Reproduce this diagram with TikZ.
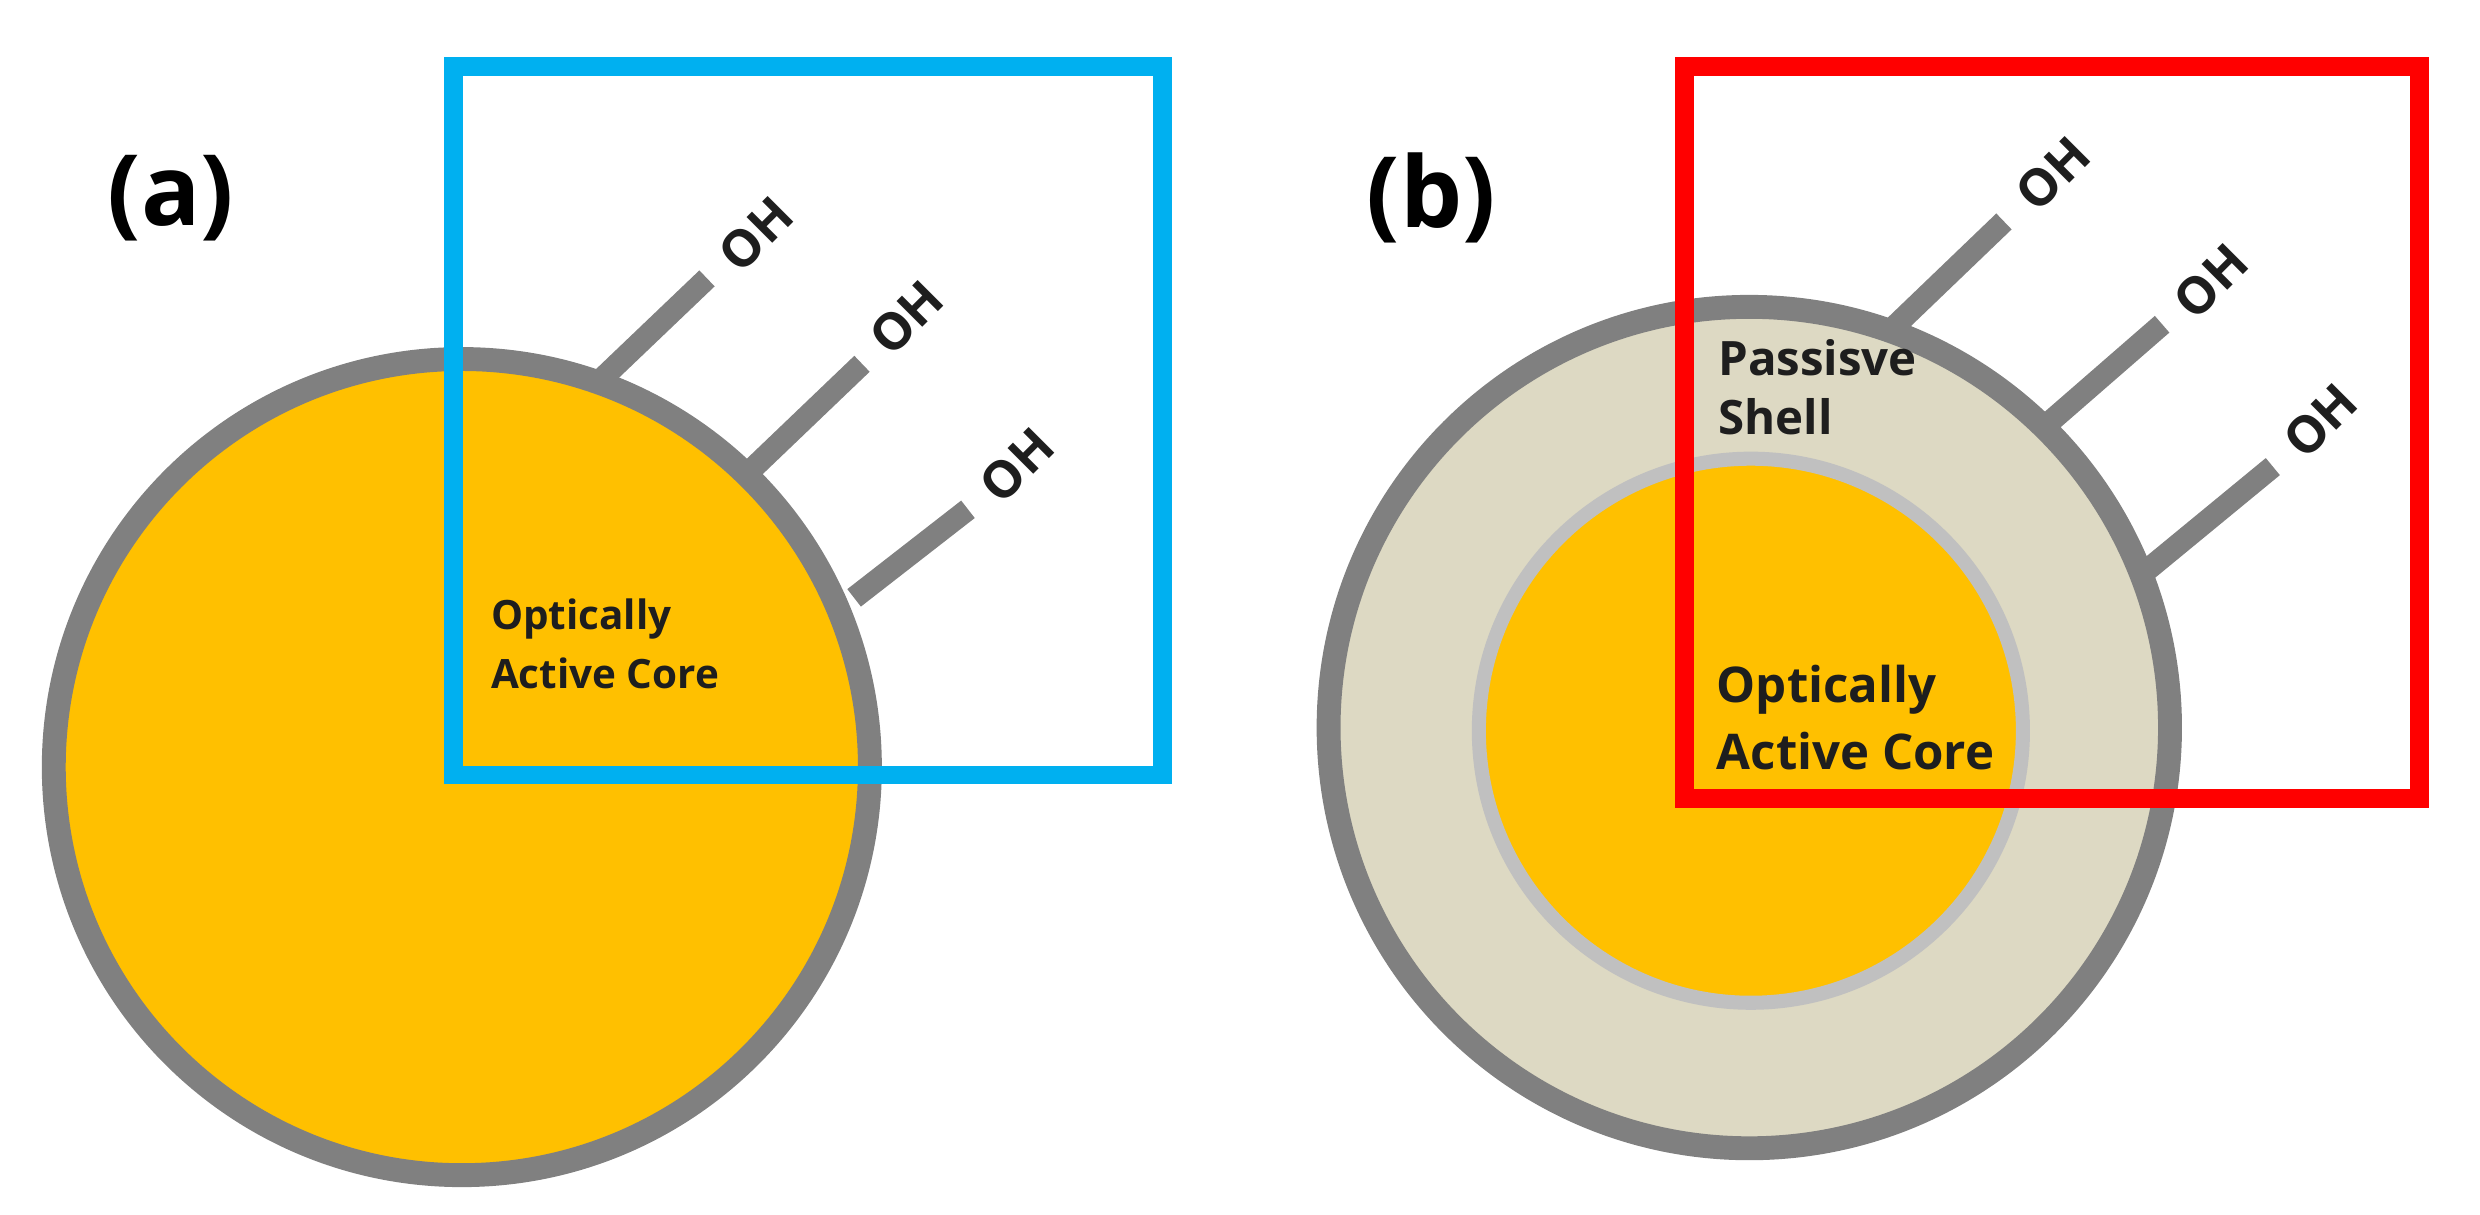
\documentclass[tikz,border=0pt]{standalone}
\usepackage{fontspec}
\setmainfont{Open Sans}
\definecolor{gold}{RGB}{255,192,0}
\definecolor{rim}{RGB}{128,128,128}
\definecolor{shell}{RGB}{221,217,195}
\definecolor{cyanb}{RGB}{0,176,240}
\definecolor{redb}{RGB}{255,0,0}
\definecolor{txt}{RGB}{30,30,30}
\begin{document}
\begin{tikzpicture}[x=0.01582cm,y=-0.01582cm,
  stick/.style={rim,line width=6.3pt},
  oh/.style={font=\bfseries\fontsize{14.5}{17}\selectfont,text=txt,rotate=45,inner sep=0pt},
  lbl/.style={font=\bfseries\fontsize{11.5}{17}\selectfont,text=txt,align=left,anchor=north west,inner sep=0pt},
  panel/.style={font=\bfseries\fontsize{28}{32}\selectfont,text=black}]
\useasboundingbox (0,0) rectangle (1568,768);
% (a)
\node[panel] (la) at (108,125) {(a)};
\fill[gold] (292,485) circle (258);
\draw[rim,line width=6.8pt] (292,485) circle (258);
\coordinate (a1) at (380,240); \coordinate (a1e) at (447,176);
\coordinate (a2) at (475,297); \coordinate (a2e) at (545,230);
\coordinate (a3) at (540,378); \coordinate (a3e) at (612,322);
\draw[stick] (a1)--(a1e); \draw[stick] (a2)--(a2e); \draw[stick] (a3)--(a3e);
\node[oh] (oa1) at (478,148) {OH};
\node[oh] (oa2) at (573,201) {OH};
\node[oh] (oa3) at (643,294) {OH};
\draw[cyanb,line width=5.4pt] (287,42) rectangle (735,490);
\node[lbl] (ta) at (310,378) {Optically\\Active Core};
% (b)
\node[panel] (lb) at (905,125) {(b)};
\fill[shell] (1106,460) circle (266);
\draw[rim,line width=6.8pt] (1106,460) circle (266);
\fill[gold] (1107,462) circle (172);
\draw[rim!50,line width=4pt] (1107,462) circle (172);
\coordinate (b1) at (1192,212); \coordinate (b1e) at (1267,140);
\coordinate (b2) at (1290,272); \coordinate (b2e) at (1367,205);
\coordinate (b3) at (1358,360); \coordinate (b3e) at (1437,295);
\draw[stick] (b1)--(b1e); \draw[stick] (b2)--(b2e); \draw[stick] (b3)--(b3e);
\node[oh] (ob1) at (1298,110) {OH};
\node[oh] (ob2) at (1398,178) {OH};
\node[oh] (ob3) at (1467,266) {OH};
\draw[redb,line width=5.4pt] (1065,42) rectangle (1530,505);
\node[lbl,font=\bfseries\fontsize{13.5}{17}\selectfont] (ps) at (1086,214) {Passisve\\Shell};
\node[lbl,font=\bfseries\fontsize{14}{19}\selectfont] (tb) at (1085,420) {Optically\\Active Core};
\end{tikzpicture}
\end{document}
